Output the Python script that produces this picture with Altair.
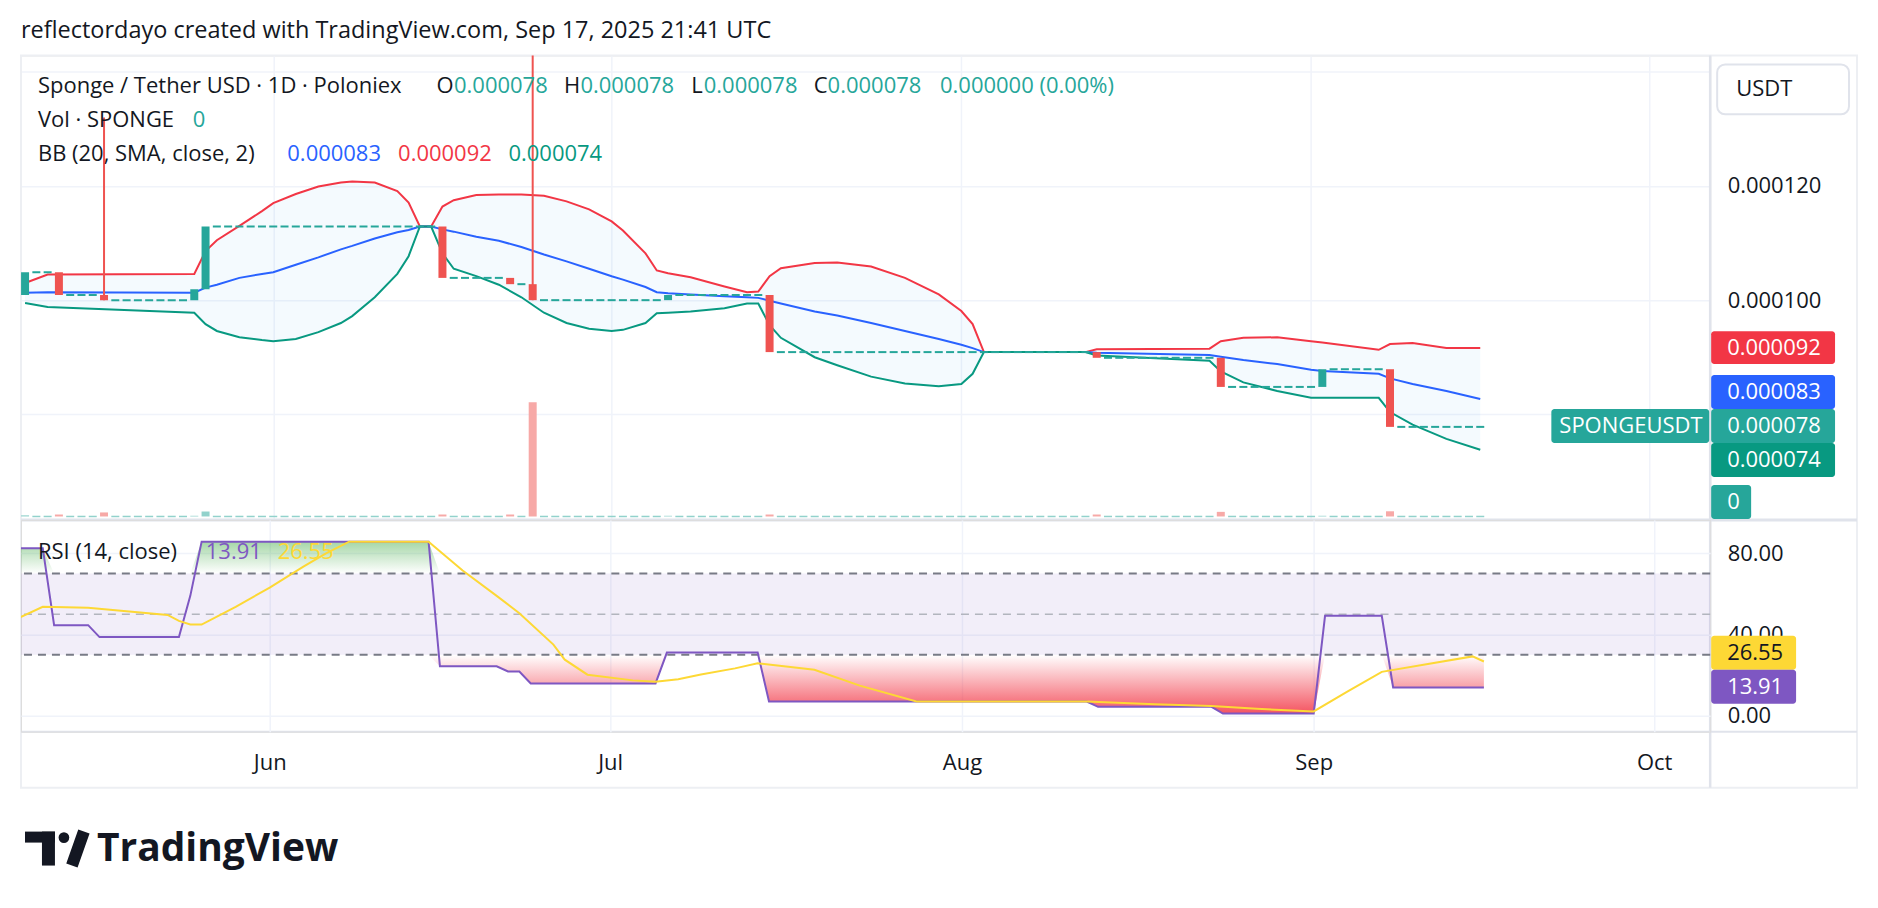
import altair as alt
import numpy as np
import pandas as pd

# ---------------- values (prices in 1e-6 USDT) ----------------
first_bar_date = "2025-05-10"
first_open = 100.9
close_levels = [104.9, 100.9, 100.0, 101.9, 112.9, 103.9, 102.8, 100.0, 100.9, 90.9, 89.9, 84.8, 87.9, 77.8]
close_run_days = [3, 4, 8, 1, 21, 6, 2, 12, 9, 29, 11, 9, 6, 9]
wick_dates = ["2025-05-17", "2025-06-24"]
wick_highs = [132.0, 150.0]
vol_dates = ["2025-05-10", "2025-05-13", "2025-05-17", "2025-05-25", "2025-05-26", "2025-06-16", "2025-06-22",
             "2025-06-24", "2025-07-06", "2025-07-15", "2025-08-13", "2025-08-24", "2025-09-02", "2025-09-08"]
vol_values = [1.0, 1.7, 3.5, 0.6, 4.3, 1.7, 1.7, 99.0, 0.6, 1.7, 1.7, 4.0, 0.6, 4.5]

bb_dates = ["2025-05-10", "2025-05-12", "2025-05-25", "2025-05-26", "2025-05-27", "2025-05-29", "2025-05-31",
            "2025-06-01", "2025-06-03", "2025-06-05", "2025-06-07", "2025-06-08", "2025-06-10", "2025-06-12",
            "2025-06-13", "2025-06-14", "2025-06-15", "2025-06-16", "2025-06-17", "2025-06-19", "2025-06-21",
            "2025-06-23", "2025-06-25", "2025-06-27", "2025-06-29", "2025-07-01", "2025-07-02", "2025-07-04",
            "2025-07-05", "2025-07-06", "2025-07-08", "2025-07-11", "2025-07-13", "2025-07-14", "2025-07-15",
            "2025-07-16", "2025-07-19", "2025-07-21", "2025-07-24", "2025-07-27", "2025-07-30", "2025-08-01",
            "2025-08-02", "2025-08-03", "2025-08-12", "2025-08-13", "2025-08-23", "2025-08-24", "2025-08-26",
            "2025-08-29", "2025-09-01", "2025-09-02", "2025-09-07", "2025-09-08", "2025-09-10", "2025-09-13",
            "2025-09-16"]
bb_upper = [103.0, 104.5, 104.6, 108.6, 110.5, 113.0, 115.6, 117.0, 118.6, 119.9, 120.6, 120.8, 120.6, 119.1,
            117.1, 112.9, 112.9, 116.4, 117.5, 118.4, 118.5, 118.5, 118.3, 117.3, 115.9, 113.8, 112.2, 108.2,
            105.2, 104.7, 104.0, 102.4, 101.4, 101.5, 104.2, 105.6, 106.5, 106.6, 105.9, 103.9, 101.0, 98.1,
            95.8, 90.9, 90.9, 91.4, 91.5, 92.8, 93.4, 93.5, 92.8, 92.6, 91.3, 92.3, 92.5, 91.6, 91.6]
bb_basis = [101.3, 101.4, 101.3, 102.2, 102.7, 103.9, 104.6, 104.9, 106.2, 107.5, 108.9, 109.5, 110.8, 111.9,
            112.3, 112.9, 112.9, 112.4, 112.0, 111.1, 110.4, 109.3, 108.0, 106.8, 105.5, 104.2, 103.6, 102.3,
            101.4, 101.2, 101.0, 100.7, 100.5, 100.4, 99.9, 99.4, 98.0, 97.3, 96.0, 94.6, 93.2, 92.2,
            91.6, 90.9, 90.9, 90.8, 90.4, 90.1, 89.5, 88.8, 87.8, 87.6, 87.1, 86.3, 85.3, 84.1, 82.7]
bb_lower = [99.5, 98.8, 97.8, 95.8, 94.6, 93.5, 93.0, 92.8, 93.2, 94.4, 96.0, 97.2, 100.5, 104.6,
            107.7, 112.9, 112.9, 108.2, 105.5, 104.2, 102.7, 100.5, 97.8, 96.0, 95.0, 94.6, 94.8, 96.0,
            97.7, 97.8, 98.0, 98.6, 99.4, 99.4, 95.6, 93.4, 90.0, 88.6, 86.6, 85.4, 84.9, 85.3,
            87.1, 90.9, 90.9, 90.3, 89.4, 87.5, 85.6, 84.1, 82.9, 82.9, 82.9, 80.4, 78.2, 75.7, 73.8]

rsi_dates = ["2025-05-10", "2025-05-12", "2025-05-13", "2025-05-16", "2025-05-17", "2025-05-24", "2025-05-25",
             "2025-05-26", "2025-06-15", "2025-06-16", "2025-06-21", "2025-06-22", "2025-06-23", "2025-06-24",
             "2025-07-05", "2025-07-06", "2025-07-14", "2025-07-15", "2025-08-12", "2025-08-13", "2025-08-23",
             "2025-08-24", "2025-09-01", "2025-09-02", "2025-09-07", "2025-09-08", "2025-09-16"]
rsi_values = [82.5, 82.5, 44.6, 44.6, 38.7, 38.7, 59.0, 85.7, 85.7, 24.3, 24.3, 21.8, 21.8, 15.9,
              15.9, 31.1, 31.1, 7.0, 7.0, 4.4, 4.4, 1.1, 1.1, 49.2, 49.2, 13.91, 13.91]
rsi_ma_dates = ["2025-05-10", "2025-05-12", "2025-05-16", "2025-05-23", "2025-05-24", "2025-05-25", "2025-05-26",
                "2025-05-29", "2025-06-01", "2025-06-04", "2025-06-06", "2025-06-08", "2025-06-15", "2025-06-18",
                "2025-06-21", "2025-06-23", "2025-06-26", "2025-06-27", "2025-06-29", "2025-07-03", "2025-07-05",
                "2025-07-07", "2025-07-09", "2025-07-12", "2025-07-14", "2025-07-19", "2025-07-23", "2025-07-28",
                "2025-08-12", "2025-08-18", "2025-08-23", "2025-08-27", "2025-09-01", "2025-09-04", "2025-09-07",
                "2025-09-15", "2025-09-16"]
rsi_ma_values = [48.4, 53.6, 53.2, 49.6, 46.7, 44.9, 44.9, 53.6, 63.1, 73.5, 80.0, 85.7, 85.7, 71.5,
                 59.0, 50.5, 35.0, 27.6, 20.2, 17.4, 16.7, 18.0, 20.3, 23.3, 25.8, 22.6, 14.8, 7.0,
                 7.0, 5.7, 4.8, 3.4, 2.1, 12.0, 21.6, 29.2, 26.7]

month_ticks = [6, 7, 8, 9, 10]
price_ticks = [80, 100, 120, 140]
price_labelled = [100, 120]
rsi_ticks = [0, 40, 80]
rsi_band = [70, 30]
rsi_levels = [70, 50, 30]

# ---------------- tables ----------------
closes = [lvl for lvl, n in zip(close_levels, close_run_days) for _ in range(n)]
days = pd.date_range(first_bar_date, periods=len(closes), freq="D")
day_str = [d.strftime("%Y-%m-%d") for d in days]
opens = [first_open] + closes[:-1]
high_map = dict(zip(wick_dates, wick_highs))
vol_map = dict(zip(vol_dates, vol_values))


def utc(ds):
    return [d + "T00:00:00Z" for d in ds]


candles = pd.DataFrame({"date": utc(day_str), "open": opens, "close": closes})
candles["low"] = np.minimum(candles["open"], candles["close"])
candles["high"] = [high_map.get(s, max(o, c)) for s, o, c in zip(day_str, opens, closes)]
candles["dir"] = np.where(candles["close"] >= candles["open"], "up", "down")
candles["flat"] = candles["open"] == candles["close"]
candles["vol"] = [vol_map.get(s, 0.0) for s in day_str]

bb = pd.DataFrame({"date": utc(bb_dates), "upper": bb_upper, "basis": bb_basis, "lower": bb_lower})
rsi = pd.DataFrame({"date": utc(rsi_dates), "rsi": rsi_values})
rsima = pd.DataFrame({"date": utc(rsi_ma_dates), "ma": rsi_ma_values})
band_df = pd.DataFrame({"hi": [rsi_band[0]], "lo": [rsi_band[1]]})
lvl_df = pd.DataFrame({"lvl": rsi_levels})
one = pd.DataFrame({"k": [0]})

# ---------------- styling / scales ----------------
W, H_MAIN, H_RSI = 1691, 465, 212
INK = "#131722"
GRID = "#F0F3FA"
FONT = "Open Sans"
UP, DOWN = "#26A69A", "#EF5350"

x_scale = alt.Scale(type="utc", domain=[
    alt.DateTime(year=2025, month=5, date=10, hours=1, minutes=55, utc=True),
    alt.DateTime(year=2025, month=10, date=5, hours=22, minutes=34, utc=True)])
month_vals = [alt.DateTime(year=2025, month=m, date=1, utc=True) for m in month_ticks]

x_top = alt.X("date:T", scale=x_scale, title=None,
              axis=alt.Axis(values=month_vals, grid=True, gridColor=GRID, gridWidth=1.5,
                            labels=False, ticks=False, domain=False))
x_rsi = alt.X("date:T", scale=x_scale, title=None,
              axis=alt.Axis(values=month_vals, labelExpr="utcFormat(datum.value, '%b')", grid=True,
                            gridColor=GRID, gridWidth=1.5, ticks=False, tickSize=0, domain=False,
                            labelFontSize=22, labelFont=FONT, labelColor=INK, labelPadding=31,
                            labelBaseline="middle", labelFlush=False, labelOverlap=False))

p_scale = alt.Scale(domain=[61.50, 142.87], nice=False, zero=False)
p_axis = alt.Axis(orient="right", values=price_ticks,
                  labelExpr=f"indexof({price_labelled}, datum.value) >= 0 ? format(datum.value / 1000000, '.6f') : ''",
                  grid=True, gridColor=GRID, gridWidth=1.5, ticks=False, tickSize=0, domain=False,
                  labelPadding=17, labelFontSize=22, labelFont=FONT, labelColor=INK,
                  labelOverlap=False, labelFlush=False)
v_scale = alt.Scale(domain=[-3, 400], nice=False, zero=False)
r_scale = alt.Scale(domain=[-7.87, 96.39], nice=False, zero=False)
r_axis = alt.Axis(orient="right", values=rsi_ticks, format=".2f", grid=True, gridColor=GRID, gridWidth=1.5,
                  ticks=False, tickSize=0, domain=False, labelPadding=17, labelFontSize=22, labelFont=FONT,
                  labelColor=INK, labelOverlap=False, labelFlush=False)


def PY(f):
    return alt.Y(f"{f}:Q", scale=p_scale, axis=p_axis, title=None)


def RY(f):
    return alt.Y(f"{f}:Q", scale=r_scale, axis=r_axis, title=None)


def txt(s, x, y, color=INK, size=22, weight="normal"):
    return alt.Chart(one).mark_text(text=s, align="left", baseline="middle", font=FONT, fontSize=size,
                                    fontWeight=weight, color=color).encode(x=alt.value(x), y=alt.value(y))


def box(x, x2, y, y2, fill, radius=0, opacity=1.0, stroke=None, fill_opacity=1.0):
    kw = dict(fill=fill, cornerRadius=radius, opacity=opacity, fillOpacity=fill_opacity)
    if stroke:
        kw.update(stroke=stroke, strokeWidth=2)
    return alt.Chart(one).mark_rect(**kw).encode(x=alt.value(x), x2=alt.value(x2),
                                                y=alt.value(y), y2=alt.value(y2))


def seg(x, x2, y, y2, color, width):
    return alt.Chart(one).mark_rule(color=color, strokeWidth=width).encode(
        x=alt.value(x), x2=alt.value(x2), y=alt.value(y), y2=alt.value(y2))


def badge(x, x2, y, y2, fill, label, tcolor="white", tx=None):
    return [box(x, x2, y, y2, fill, radius=3), txt(label, tx if tx is not None else x + 16, (y + y2) / 2, tcolor)]


dir_color = alt.condition("datum.dir == 'up'", alt.value(UP), alt.value(DOWN))

# ---------------- main pane ----------------
bb_fill = alt.Chart(bb).mark_area(color="#2196F3", opacity=0.05, clip=True).encode(
    x=x_top, y=PY("upper"), y2="lower:Q")
bb_up = alt.Chart(bb).mark_line(color="#F23645", strokeWidth=2, clip=True).encode(x=x_top, y=PY("upper"))
bb_mid = alt.Chart(bb).mark_line(color="#2962FF", strokeWidth=2, clip=True).encode(x=x_top, y=PY("basis"))
bb_low = alt.Chart(bb).mark_line(color="#089981", strokeWidth=2, clip=True).encode(x=x_top, y=PY("lower"))
flat = alt.Chart(candles).transform_filter("datum.flat").mark_rule(
    color=UP, strokeWidth=2, xOffset=-4, x2Offset=4, clip=True).encode(x=x_top, x2="date:T", y=PY("close"))
bodies = alt.Chart(candles).transform_filter("!datum.flat").mark_bar(size=8, clip=True).encode(
    x=x_top, y=PY("open"), y2="close:Q", color=dir_color)
wicks = alt.Chart(candles).transform_filter("datum.high > max(datum.open, datum.close)").mark_rule(
    strokeWidth=2, clip=True).encode(x=x_top, y=PY("low"), y2="high:Q", color=dir_color)
price_layer = alt.layer(bb_fill, bb_up, bb_mid, bb_low, flat, bodies, wicks)

vol0 = alt.Chart(candles).transform_filter("datum.vol == 0").mark_rule(
    color="#92D2CC", strokeWidth=1.5, xOffset=-4, x2Offset=4).encode(
    x=x_top, x2="date:T", y=alt.Y("vol:Q", scale=v_scale, axis=None))
volb = alt.Chart(candles).transform_filter("datum.vol > 0").transform_calculate(base="0").mark_bar(size=8).encode(
    x=x_top, y=alt.Y("vol:Q", scale=v_scale, axis=None), y2="base:Q",
    color=alt.condition("datum.dir == 'up'", alt.value("#92D2CC"), alt.value("#F7A9A7")))
vol_layer = alt.layer(vol0, volb)

deco = [
    box(-20, 1858, -54, 854, "white", opacity=0),
    box(0, 1838, 0, 733, "white", fill_opacity=0, stroke="#EDEFF3"),
    seg(W, W, 0, 733, "#E0E3EB", 2.5),
    seg(0, 1838, 465, 465, "#E0E3EB", 3),
    seg(0, 1838, 677, 677, "#E0E3EB", 2),
]
legend = [
    txt("reflectordayo created with TradingView.com, Sep 17, 2025 21:41 UTC", 0, -24, size=23.5),
    txt("Sponge / Tether USD · 1D · Poloniex", 17, 31),
    txt("O", 416, 31), txt("0.000078", 433.5, 31, UP),
    txt("H", 543.5, 31), txt("0.000078", 560, 31, UP),
    txt("L", 671, 31), txt("0.000078", 683.5, 31, UP),
    txt("C", 793.5, 31), txt("0.000078", 807.5, 31, UP),
    txt("0.000000 (0.00%)", 920, 31, UP),
    txt("Vol · SPONGE", 17, 65), txt("0", 172, 65, UP),
    txt("BB (20, SMA, close, 2)", 17, 99),
    txt("0.000083", 266.6, 99, "#2962FF"), txt("0.000092", 377.5, 99, "#F23645"),
    txt("0.000074", 488, 99, "#089981"),
]
badges = (badge(1692, 1816, 276, 309, "#F23645", "0.000092")
          + badge(1692, 1816, 320, 354, "#2962FF", "0.000083")
          + badge(1692, 1816, 354, 388, UP, "0.000078")
          + badge(1692, 1816, 388, 422, "#089981", "0.000074")
          + badge(1692, 1732, 430, 464, UP, "0")
          + badge(1532, 1690, 354, 388, UP, "SPONGEUSDT", tx=1540)
          + [box(1698, 1830, 9, 59, "white", radius=8, stroke="#E0E3EB"), txt("USDT", 1717, 34)])
logo = [
    box(4, 34, 777, 788, INK),
    box(21, 34, 777, 811, INK),
    alt.Chart(one).mark_circle(size=115, color=INK, opacity=1).encode(x=alt.value(43), y=alt.value(783)),
    alt.Chart(one).mark_rule(color=INK, strokeWidth=12, strokeCap="butt").encode(
        x=alt.value(51), x2=alt.value(63), y=alt.value(811), y2=alt.value(777)),
    txt("TradingView", 76, 794, size=39, weight="bold"),
]

main = alt.layer(*deco, vol_layer, price_layer, *legend, *badges, *logo).resolve_scale(
    y="independent").properties(width=W, height=H_MAIN)

# ---------------- RSI pane ----------------
green_grad = {"gradient": "linear", "x1": 0, "x2": 0, "y1": 0, "y2": 1,
              "stops": [{"offset": 0, "color": "rgba(76,175,80,0.5)"},
                        {"offset": 1, "color": "rgba(76,175,80,0)"}]}
red_grad = {"gradient": "linear", "x1": 0, "x2": 0, "y1": 0, "y2": 1,
            "stops": [{"offset": 0, "color": "rgba(242,54,69,0)"},
                      {"offset": 1, "color": "rgba(242,54,69,0.85)"}]}

band = alt.Chart(band_df).mark_rect(color="#7E57C2", opacity=0.1).encode(
    y=RY("hi"), y2="lo:Q", x=alt.value(0), x2=alt.value(W))
ob = alt.Chart(rsi).transform_calculate(ob=f"max(datum.rsi, {rsi_band[0]})", edge=f"{rsi_band[0]}").mark_area(
    color=green_grad, clip=True).encode(x=x_rsi, y=RY("ob"), y2="edge:Q")
os_ = alt.Chart(rsi).transform_calculate(os=f"min(datum.rsi, {rsi_band[1]})", edge=f"{rsi_band[1]}").mark_area(
    color=red_grad, clip=True).encode(x=x_rsi, y=RY("os"), y2="edge:Q")
lv_dark = alt.Chart(lvl_df).transform_filter("datum.lvl != 50").mark_rule(
    color="#787B86", strokeWidth=2, strokeDash=[8, 6]).encode(y=RY("lvl"))
lv_mid = alt.Chart(lvl_df).transform_filter("datum.lvl == 50").mark_rule(
    color="#B2B5BE", strokeWidth=1.5, strokeDash=[8, 6]).encode(y=RY("lvl"))
rsi_line = alt.Chart(rsi).mark_line(color="#7E57C2", strokeWidth=2, clip=True).encode(x=x_rsi, y=RY("rsi"))
ma_line = alt.Chart(rsima).mark_line(color="#FDD835", strokeWidth=2, clip=True).encode(x=x_rsi, y=RY("ma"))
rsi_texts = [txt("RSI (14, close)", 17, 32), txt("13.91", 185, 32, "#7E57C2"), txt("26.55", 257, 32, "#FDD835")]
rsi_badges = (badge(1692, 1777, 116, 150, "#FDD835", "26.55", tcolor=INK)
              + badge(1692, 1777, 150, 184, "#7E57C2", "13.91"))

rsi_pane = alt.layer(band, ob, os_, lv_dark, lv_mid, rsi_line, ma_line, *rsi_texts, *rsi_badges).properties(
    width=W, height=H_RSI)

chart = alt.vconcat(main, rsi_pane, spacing=0, bounds="flush").resolve_scale(
    x="independent", y="independent").properties(padding=0).configure_view(stroke=None).configure(font=FONT)

chart.save("out.html", embed_options={"renderer": "svg", "actions": False})
